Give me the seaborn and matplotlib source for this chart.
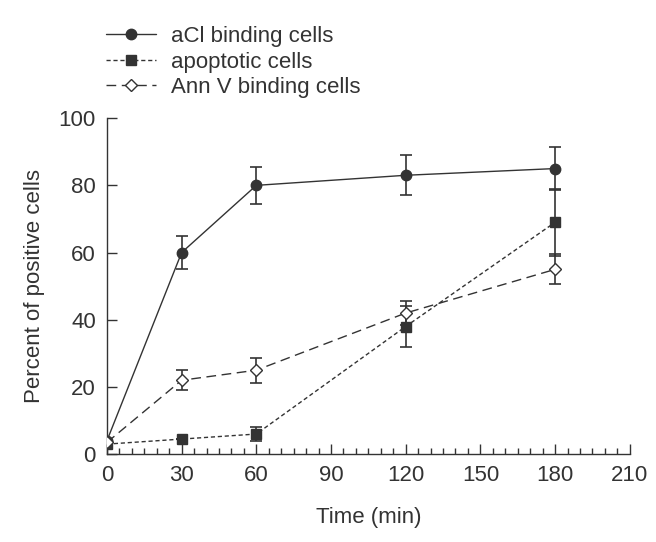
import numpy as np
import pandas as pd
import matplotlib
matplotlib.use("Agg")
import matplotlib.pyplot as plt
from matplotlib.ticker import MultipleLocator
import seaborn as sns

# data
time = [0, 30, 60, 120, 180]
acl = [4, 60, 80, 83, 85]
acl_err = [0, 5, 5.5, 6, 6.3]
apopt = [3, 4.5, 6, 38, 69]
apopt_err = [0, 0, 2, 6, 10]
annv = [3.5, 22, 25, 42, 55]
annv_err = [0, 3, 3.7, 3.5, 4.5]

sns.set_style("ticks")
plt.rcParams['font.family'] = ['Liberation Sans', 'DejaVu Sans']
ink = "#333333"
fs = 16

fig = plt.figure(figsize=(6.56, 5.42), dpi=100)
ax = fig.add_axes([0.163, 0.162, 0.797, 0.62])

series = [
    ("aCl binding cells", acl, acl_err, "-", "o", ink, 7.5),
    ("apoptotic cells", apopt, apopt_err, (0, (3, 2)), "s", ink, 7),
    ("Ann V binding cells", annv, annv_err, (0, (7, 4)), "D", "white", 6.3),
]

for name, vals, errs, ls, mk, fc, ms in series:
    df = pd.DataFrame({"Time": time, "Percent": vals})
    sns.lineplot(data=df, x="Time", y="Percent", ax=ax, color=ink, linestyle=ls,
                 linewidth=1.0, marker=mk, markersize=ms,
                 markerfacecolor=fc, markeredgecolor=ink, markeredgewidth=1.0,
                 label=name, zorder=3)
    ax.errorbar(time, vals, yerr=errs, fmt="none", ecolor=ink, elinewidth=1.2,
                capsize=4.5, capthick=1.2, zorder=2)

ax.set_xlim(0, 210)
ax.set_ylim(0, 100)
ax.xaxis.set_major_locator(MultipleLocator(30))
ax.xaxis.set_minor_locator(MultipleLocator(5))
ax.yaxis.set_major_locator(MultipleLocator(20))
ax.tick_params(axis="both", which="both", direction="in", colors=ink,
               labelsize=fs, labelcolor=ink)
ax.tick_params(axis="both", which="major", length=7, width=1, pad=8)
ax.tick_params(axis="x", which="minor", length=4, width=1)
for s in ["top", "right"]:
    ax.spines[s].set_visible(False)
for s in ["left", "bottom"]:
    ax.spines[s].set_color(ink)
    ax.spines[s].set_linewidth(1.0)

ax.set_xlabel("Time (min)", fontsize=fs, color=ink, labelpad=15)
ax.set_ylabel("Percent of positive cells", fontsize=fs, color=ink, labelpad=10)

ax.legend(loc="upper left", bbox_to_anchor=(0.155, 0.96), bbox_transform=fig.transFigure,
          frameon=False, fontsize=fs, handlelength=2.25, handletextpad=0.65,
          labelspacing=0.2, borderaxespad=0.0, borderpad=0.2, labelcolor=ink)

fig.savefig("out.png", dpi=100)
